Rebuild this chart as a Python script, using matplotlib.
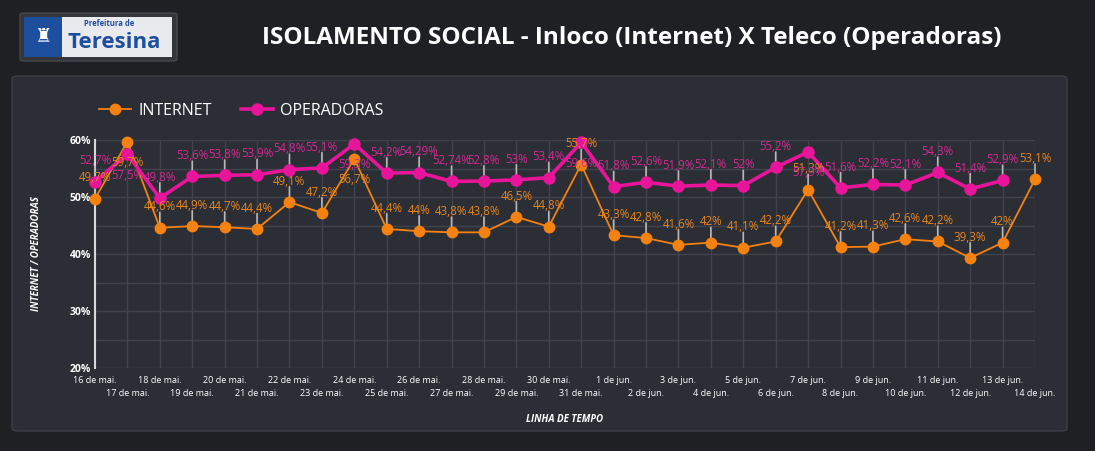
import matplotlib

matplotlib.use("Agg")
import matplotlib.pyplot as plt
from matplotlib.patches import FancyBboxPatch, Rectangle
from matplotlib.transforms import blended_transform_factory

plt.rcParams["font.family"] = ["Open Sans", "DejaVu Sans"]

dates = ["16 de mai.", "17 de mai.", "18 de mai.", "19 de mai.", "20 de mai.",
         "21 de mai.", "22 de mai.", "23 de mai.", "24 de mai.", "25 de mai.",
         "26 de mai.", "27 de mai.", "28 de mai.", "29 de mai.", "30 de mai.",
         "31 de mai.", "1 de jun.", "2 de jun.", "3 de jun.", "4 de jun.",
         "5 de jun.", "6 de jun.", "7 de jun.", "8 de jun.", "9 de jun.",
         "10 de jun.", "11 de jun.", "12 de jun.", "13 de jun.", "14 de jun."]
internet = [49.7, 59.7, 44.6, 44.9, 44.7, 44.4, 49.1, 47.2, 56.7, 44.4,
            44.0, 43.8, 43.8, 46.5, 44.8, 55.7, 43.3, 42.8, 41.6, 42.0,
            41.1, 42.2, 51.3, 41.2, 41.3, 42.6, 42.2, 39.3, 42.0, 53.1]
operadoras = [52.7, 57.5, 49.8, 53.6, 53.8, 53.9, 54.8, 55.1, 59.3, 54.2,
              54.29, 52.74, 52.8, 53.0, 53.4, 59.6, 51.8, 52.6, 51.9, 52.1,
              52.0, 55.2, 57.9, 51.6, 52.2, 52.1, 54.3, 51.4, 52.9]
yticks = [20, 30, 40, 50, 60]

ORANGE = "#f5820f"
MAGENTA = "#e8149a"
FIG_BG = "#1f2024"
PANEL_BG = "#2c2e36"
GRID = "#40434c"

fig = plt.figure(figsize=(10.95, 4.51), dpi=100, facecolor=FIG_BG)
W, H = 1095, 451


def fx(px):
    return px / W


def fy(py):
    return 1 - py / H


# painel de fundo
fig.patches.append(FancyBboxPatch((fx(12), fy(431)), fx(1067) - fx(12), fy(76) - fy(431),
                                  boxstyle="round,pad=0,rounding_size=0.006",
                                  transform=fig.transFigure, facecolor=PANEL_BG,
                                  edgecolor="#3c3e47", linewidth=1, zorder=-2))

# logo da prefeitura (simplificado)
fig.patches.append(FancyBboxPatch((fx(20), fy(61)), fx(177) - fx(20), fy(13) - fy(61),
                                  boxstyle="round,pad=0,rounding_size=0.004",
                                  transform=fig.transFigure, facecolor="#34363c",
                                  edgecolor="#45474d", linewidth=1, zorder=1))
fig.patches.append(Rectangle((fx(24), fy(57)), fx(172) - fx(24), fy(17) - fy(57),
                             transform=fig.transFigure, facecolor="#e9eaee",
                             edgecolor="none", zorder=2))
fig.patches.append(Rectangle((fx(24), fy(57)), fx(62) - fx(24), fy(17) - fy(57),
                             transform=fig.transFigure, facecolor="#1d4f9e",
                             edgecolor="none", zorder=3))
fig.text(fx(43), fy(37), "♜", color="white", fontsize=14, ha="center", va="center",
         family=["DejaVu Sans"], zorder=4)
fig.text(fx(84), fy(24), "Prefeitura de", color="#1d4f9e", fontsize=5.5,
         fontweight="bold", ha="left", va="center", zorder=4)
fig.text(fx(67), fy(42), "Teresina", color="#1d4f9e", fontsize=16,
         fontweight="bold", ha="left", va="center", zorder=4)

fig.text(fx(632), fy(38), "ISOLAMENTO SOCIAL - Inloco (Internet) X Teleco (Operadoras)",
         color="white", fontsize=17.5, fontweight="bold", ha="center", va="center")

ax = fig.add_axes([fx(95), fy(368), fx(1035) - fx(95), fy(140) - fy(368)])
ax.set_zorder(5)
ax.set_facecolor(PANEL_BG)
x_int = list(range(len(internet)))
x_op = list(range(len(operadoras)))

l_int, = ax.plot(x_int, internet, color=ORANGE, linewidth=1.3, marker="o",
                 markersize=7.5, label="INTERNET", zorder=4, clip_on=False)
l_op, = ax.plot(x_op, operadoras, color=MAGENTA, linewidth=2.6, marker="o",
                markersize=8, label="OPERADORAS", zorder=5, clip_on=False)

ax.set_xlim(0, len(dates) - 1)
ax.set_ylim(20, 60)
ax.set_yticks(yticks)
ax.set_yticklabels([f"{v}%" for v in yticks], color="white", fontsize=7.5,
                   fontweight="bold")
ax.set_yticks(range(25, 60, 10), minor=True)
ax.set_xticks(x_int)
ax.set_xticklabels([])
ax.tick_params(axis="both", which="both", length=0, pad=3)
ax.grid(True, which="both", color=GRID, linewidth=1)
ax.set_axisbelow(True)
for side in ["top", "right", "bottom"]:
    ax.spines[side].set_visible(False)
ax.spines["left"].set_color("#d8d8d8")
ax.spines["left"].set_linewidth(1.5)

# rótulos de data em duas linhas alternadas
tr = blended_transform_factory(ax.transData, ax.transAxes)
for i, d in enumerate(dates):
    y = -0.057 if i % 2 == 0 else -0.11
    ax.text(i, y, d, transform=tr, color="white", fontsize=6.5, ha="center", va="center")

ax.set_xlabel("LINHA DE TEMPO", color="white", fontsize=7, fontweight="bold",
              style="italic", labelpad=30)
ax.set_ylabel("INTERNET / OPERADORAS", color="white", fontsize=7, fontweight="bold",
              style="italic", labelpad=20)


def fmt(v):
    s = f"{v:.2f}".rstrip("0").rstrip(".")
    return s.replace(".", ",") + "%"


def label_series(xs, vals, color, top_limit):
    for xi, v in zip(xs, vals):
        if v >= top_limit:
            ax.annotate(fmt(v), (xi, v), xytext=(0, -15), textcoords="offset points",
                        ha="center", va="center", color=color, fontsize=8.3, zorder=6)
        else:
            ax.annotate("", (xi, v), xytext=(0, 11), textcoords="offset points",
                        arrowprops=dict(arrowstyle="-", color="#b8b8b8", lw=1.2,
                                        shrinkA=0, shrinkB=0), zorder=3)
            ax.annotate(fmt(v), (xi, v), xytext=(0, 15), textcoords="offset points",
                        ha="center", va="center", color=color, fontsize=8.3, zorder=6)


label_series(x_int, internet, "#e8861c", 56.5)
label_series(x_op, operadoras, "#d42a93", 57.0)

fig.legend(handles=[l_int, l_op], loc="center left",
           bbox_to_anchor=(fx(85), fy(111)), ncol=2, frameon=False, fontsize=11.5,
           labelcolor="white", handlelength=2.0, columnspacing=1.8, handletextpad=0.45)

fig.savefig("out.png", dpi=100, facecolor=FIG_BG)
